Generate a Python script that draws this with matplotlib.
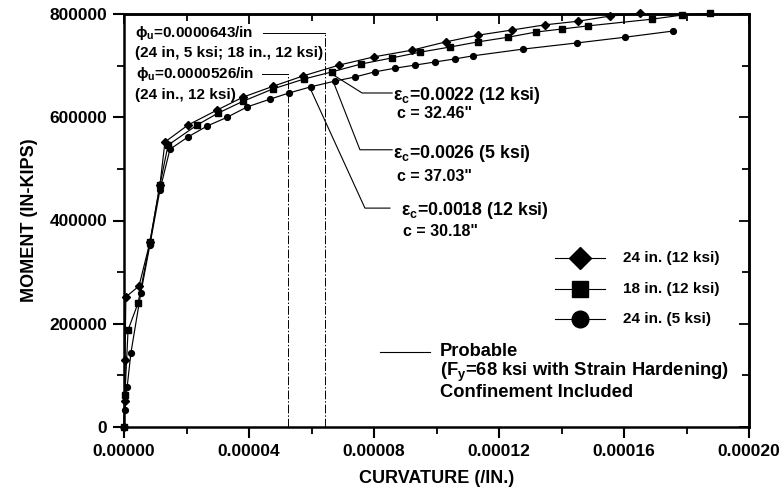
import matplotlib
matplotlib.use("Agg")
import matplotlib.pyplot as plt
from matplotlib.ticker import MultipleLocator, FormatStrFormatter
from matplotlib.lines import Line2D

plt.rcParams["font.family"] = ["Liberation Sans", "DejaVu Sans"]
plt.rcParams["font.weight"] = "bold"
plt.rcParams["mathtext.default"] = "regular"

# Moment-curvature results (curvature in 1/in, moment in in-kips)
phi_24_12 = [0.0, 0.0000002, 0.0000003, 0.0000006, 0.0000048, 0.0000083, 0.0000115,
             0.0000131, 0.0000205, 0.0000298, 0.0000381, 0.0000477, 0.0000573,
             0.0000688, 0.0000800, 0.0000922, 0.0001030, 0.0001133, 0.0001242,
             0.0001347, 0.0001453, 0.0001555, 0.0001651]
m_24_12 = [0, 50000, 130000, 252000, 273000, 358000, 469000,
           552000, 585000, 614000, 639000, 660000, 680000,
           701000, 717000, 730000, 746000, 759000, 769000,
           779000, 786000, 796000, 801000]

phi_18_12 = [0.0, 0.0000003, 0.0000013, 0.0000045, 0.0000083, 0.0000115, 0.0000141,
             0.0000234, 0.0000301, 0.0000381, 0.0000477, 0.0000576, 0.0000666,
             0.0000758, 0.0000858, 0.0000947, 0.0001043, 0.0001133, 0.0001229,
             0.0001318, 0.0001402, 0.0001485, 0.0001690, 0.0001786, 0.0001875]
m_18_12 = [0, 62000, 188000, 240000, 358000, 469000, 546000,
           585000, 608000, 631000, 655000, 674000, 688000,
           703000, 715000, 726000, 736000, 746000, 755000,
           765000, 771000, 777000, 790000, 798000, 801000]

phi_24_5 = [0.0, 0.0000002, 0.0000010, 0.0000022, 0.0000054, 0.0000083, 0.0000115,
            0.0000147, 0.0000205, 0.0000266, 0.0000330, 0.0000394, 0.0000467,
            0.0000528, 0.0000598, 0.0000675, 0.0000739, 0.0000803, 0.0000867,
            0.0000931, 0.0000995, 0.0001059, 0.0001117, 0.0001277, 0.0001450,
            0.0001603, 0.0001757]
m_24_5 = [0, 33000, 77000, 143000, 260000, 353000, 459000,
          538000, 562000, 583000, 600000, 620000, 635000,
          647000, 659000, 670000, 678000, 688000, 695000,
          701000, 707000, 713000, 719000, 732000, 744000,
          755000, 767000]

series_labels = ["24 in. (12 ksi)", "18 in. (12 ksi)", "24 in. (5 ksi)"]

# ultimate curvatures marked with vertical lines
phi_u_a = 0.0000643
phi_u_b = 0.0000526

x_ticks = [0.0, 0.00004, 0.00008, 0.00012, 0.00016, 0.00020]
y_ticks = [0, 200000, 400000, 600000, 800000]

fig = plt.figure(figsize=(7.82, 4.95), dpi=100)
ax = fig.add_axes([124 / 782, 1 - 427 / 495, 625 / 782, 413 / 495])

line_kw = dict(color="black", lw=0.85, clip_on=False, zorder=3)
ax.plot(phi_24_12, m_24_12, marker="D", ms=3.8, **line_kw)
ax.plot(phi_18_12, m_18_12, marker="s", ms=4.2, **line_kw)
ax.plot(phi_24_5, m_24_5, marker="o", ms=4.2, **line_kw)

ax.set_xlim(0, 0.0002)
ax.set_ylim(0, 800000)

# ultimate-curvature markers
dashdot = (0, (9, 2, 1.5, 2))
ax.plot([phi_u_a, phi_u_a], [0, 763000], color="black", lw=0.7, ls=dashdot)
ax.plot([0.0000445, phi_u_a], [763000, 763000], color="black", lw=0.7)
ax.plot([phi_u_b, phi_u_b], [0, 684000], color="black", lw=0.7, ls=dashdot)
ax.plot([0.0000442, phi_u_b], [684000, 684000], color="black", lw=0.7)

fs_ann = 11
fs_eps = 12.8
ax.text(0.0000035, 763000, "ϕ$_u$=0.0000643/in", fontsize=fs_ann, va="center")
ax.text(0.0000035, 724000, "(24 in, 5 ksi; 18 in., 12 ksi)", fontsize=fs_ann, va="center")
ax.text(0.0000040, 684000, "ϕ$_u$=0.0000526/in", fontsize=fs_ann, va="center")
ax.text(0.0000035, 643000, "(24 in., 12 ksi)", fontsize=fs_ann, va="center")

# concrete strain call-outs
ax.plot([0.0000675, 0.0000762, 0.0000858], [680000, 647000, 647000], color="black", lw=0.8)
ax.text(0.0000862, 643000, "ε$_c$=0.0022 (12 ksi)", fontsize=fs_eps, va="center")
ax.text(0.0000874, 607000, 'c = 32.46"', fontsize=fs_ann + 0.5, va="center")

ax.plot([0.0000669, 0.0000755, 0.0000858], [670000, 537000, 537000], color="black", lw=0.8)
ax.text(0.0000862, 529000, "ε$_c$=0.0026 (5 ksi)", fontsize=fs_eps, va="center")
ax.text(0.0000874, 485000, 'c = 37.03"', fontsize=fs_ann + 0.5, va="center")

ax.plot([0.0000595, 0.0000771, 0.0000851], [657000, 424000, 424000], color="black", lw=0.8)
ax.text(0.0000885, 420000, "ε$_c$=0.0018 (12 ksi)", fontsize=fs_eps, va="center")
ax.text(0.0000893, 378000, 'c = 30.18"', fontsize=fs_ann + 0.5, va="center")

# key
markers = ["D", "s", "o"]
key_sizes = [11, 11, 12]
key_y = [0.409, 0.334, 0.2615]
for mk, sz, yy, lab in zip(markers, key_sizes, key_y, series_labels):
    ax.add_line(Line2D([0.6896, 0.7696], [yy, yy], color="black", lw=0.8,
                       transform=ax.transAxes))
    ax.add_line(Line2D([0.7296], [yy], marker=mk, ms=sz, color="black",
                       transform=ax.transAxes))
    ax.text(0.7984, yy, lab, transform=ax.transAxes, fontsize=fs_ann, va="center")

fs_prob = 13.2
ax.add_line(Line2D([0.4096, 0.4896], [0.1816, 0.1816], color="black", lw=0.8,
                   transform=ax.transAxes))
ax.text(0.5056, 0.1816, "Probable", transform=ax.transAxes, fontsize=fs_prob, va="center")
ax.text(0.5056, 0.1332, "(F$_y$=68 ksi with Strain Hardening)", transform=ax.transAxes,
        fontsize=fs_prob, va="center")
ax.text(0.5056, 0.0847, "Confinement Included", transform=ax.transAxes,
        fontsize=fs_prob, va="center")

# axes styling
for s in ax.spines.values():
    s.set_linewidth(1.8)

ax.set_xticks(x_ticks)
ax.xaxis.set_minor_locator(MultipleLocator(0.00002))
ax.xaxis.set_major_formatter(FormatStrFormatter("%.5f"))
ax.set_yticks(y_ticks)
ax.yaxis.set_minor_locator(MultipleLocator(100000))
ax.yaxis.set_major_formatter(FormatStrFormatter("%d"))

ax.tick_params(axis="both", which="major", direction="out", length=8, width=1.5,
               labelsize=12.5, pad=4)
ax.tick_params(axis="both", which="minor", direction="out", length=5, width=1.3)

top = ax.secondary_xaxis("top")
top.set_xticks(x_ticks)
top.xaxis.set_minor_locator(MultipleLocator(0.00002))
top.tick_params(which="major", direction="in", length=7, width=1.3, labeltop=False)
top.tick_params(which="minor", direction="in", length=5, width=1.3)
top.spines["top"].set_linewidth(1.8)

right = ax.secondary_yaxis("right")
right.set_yticks(y_ticks)
right.yaxis.set_minor_locator(MultipleLocator(100000))
right.tick_params(which="major", direction="in", length=7, width=1.3, labelright=False)
right.tick_params(which="minor", direction="in", length=5, width=1.3)
right.spines["right"].set_linewidth(1.8)

ax.set_xlabel("CURVATURE (/IN.)", fontsize=13, fontweight="bold", labelpad=8)
ax.set_ylabel("MOMENT (IN-KIPS)", fontsize=13, fontweight="bold", labelpad=8)

fig.savefig("out.png", dpi=100)
